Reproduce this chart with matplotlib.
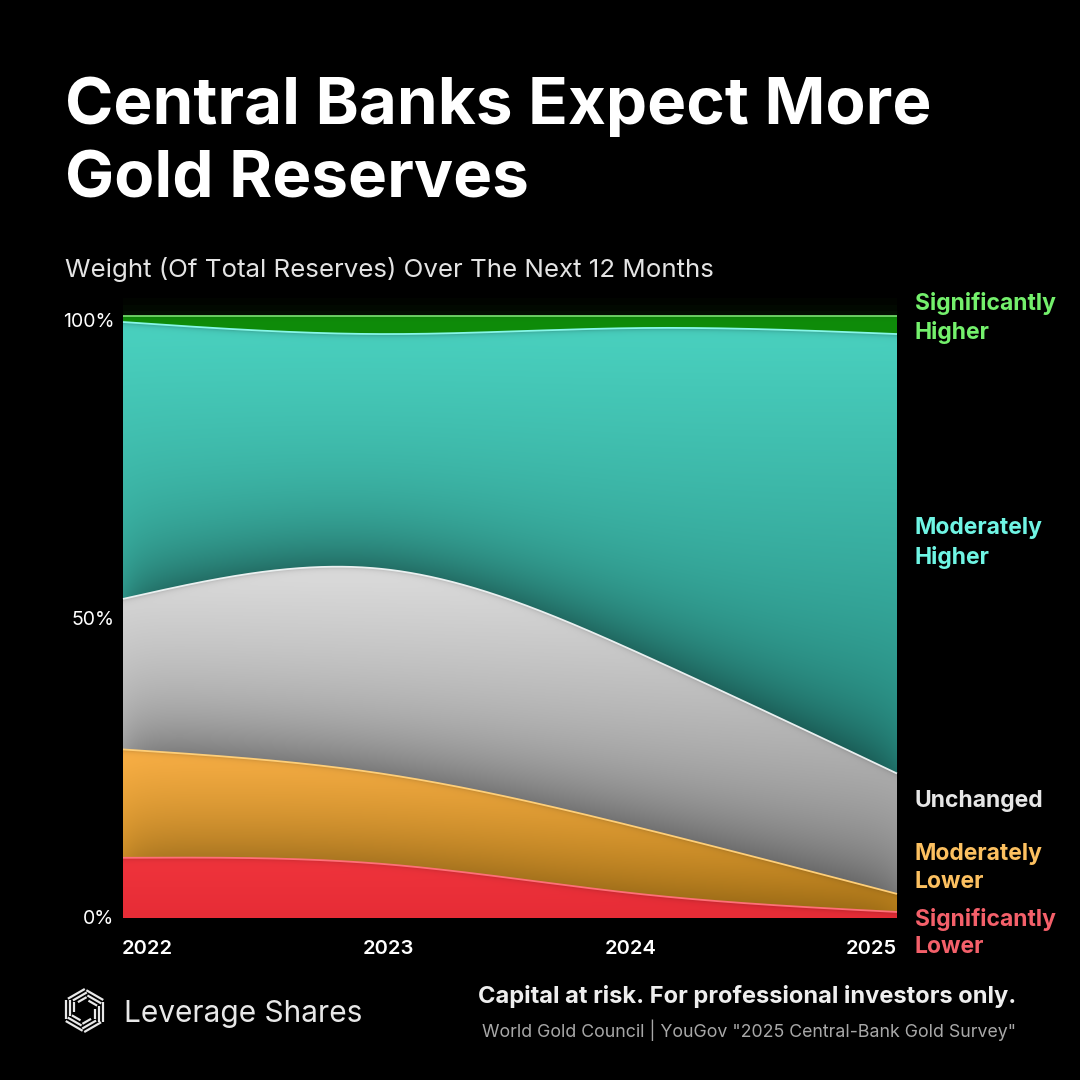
import numpy as np
import matplotlib
matplotlib.use('Agg')
import matplotlib.pyplot as plt
from matplotlib.colors import to_rgb
from matplotlib.transforms import ScaledTranslation

plt.rcParams['font.family'] = ['Inter', 'DejaVu Sans']

# datos
years = [2022, 2023, 2024, 2025]
sig_lower = [10, 9, 4, 1]
mod_lower = [18, 15, 11, 3]
unchanged = [25, 34, 29, 20]
mod_higher = [46, 39, 54, 73]
sig_higher = [1, 3, 2, 3]
series = [sig_lower, mod_lower, unchanged, mod_higher, sig_higher]

y_ticks = [0, 50, 100]
y_tick_labels = ['0%', '50%', '100%']

title_lines = ['Central Banks Expect More', 'Gold Reserves']
subtitle = 'Weight (Of Total Reserves) Over The Next 12 Months'

# estilo de cada capa: color arriba, color abajo, borde
top_colors = ['#f0343c', '#fdb247', '#dddddd', '#4ad2c0', '#0f8f0a']
bottom_colors = ['#e62c36', '#c98a1c', '#929292', '#278c82', '#0f8a0a']
line_colors = ['#ff7078', '#ffcf78', '#eaf0f0', '#86f7e8', '#72d86c']
shadow_strength = [0.0, 0.22, 0.30, 0.36, 0.0]


def natural_spline(x, y, xs):
    # spline cubica natural para suavizar las curvas
    x = np.asarray(x, float)
    y = np.asarray(y, float)
    n = len(x)
    h = np.diff(x)
    A = np.zeros((n, n))
    b = np.zeros(n)
    A[0, 0] = A[-1, -1] = 1
    for i in range(1, n - 1):
        A[i, i - 1] = h[i - 1]
        A[i, i] = 2 * (h[i - 1] + h[i])
        A[i, i + 1] = h[i]
        b[i] = 6 * ((y[i + 1] - y[i]) / h[i] - (y[i] - y[i - 1]) / h[i - 1])
    m = np.linalg.solve(A, b)
    idx = np.clip(np.searchsorted(x, xs) - 1, 0, n - 2)
    t0 = x[idx + 1] - xs
    t1 = xs - x[idx]
    hi = h[idx]
    return (m[idx] * t0**3 + m[idx + 1] * t1**3) / (6 * hi) \
        + (y[idx] / hi - m[idx] * hi / 6) * t0 \
        + (y[idx + 1] / hi - m[idx + 1] * hi / 6) * t1


fig = plt.figure(figsize=(10.8, 10.8), dpi=100, facecolor='black')

# capa de pixeles para textos y logo
canvas = fig.add_axes([0, 0, 1, 1], zorder=5)
canvas.set_xlim(0, 1080)
canvas.set_ylim(1080, 0)
canvas.axis('off')

ax = fig.add_axes([123 / 1080, (1080 - 918) / 1080, 774 / 1080, 602 / 1080], facecolor='black')

xs = np.linspace(years[0], years[-1], 774)
cum = np.cumsum(series, axis=0)
lower = np.zeros_like(xs)
edge_fade = 1 - 0.6 * np.exp(-(xs - xs[0]) / 0.07) - 0.4 * np.exp(-(xs[-1] - xs) / 0.07)

for i in range(len(series)):
    upper = natural_spline(years, cum[i], xs)
    poly = ax.fill_between(xs, lower, upper, color='none', linewidth=0)

    # degradado vertical con sombra de la capa inferior
    ys = np.linspace(upper.max(), lower.min(), 500)
    X, Y = np.meshgrid(xs, ys)
    t = (upper.max() - Y) / (upper.max() - lower.min())
    base = np.array(to_rgb(top_colors[i])) + t[..., None] * (np.array(to_rgb(bottom_colors[i])) - np.array(to_rgb(top_colors[i])))
    slope = np.gradient(lower, xs) * (602 / 100) / 258
    d_low = (Y - lower) / np.sqrt(1 + slope**2)
    d_up = upper - Y
    shade = 1 - shadow_strength[i] * edge_fade * np.exp(-np.clip(d_low, 0, None) / 7.5)
    shade = shade * (1 - 0.22 * np.exp(-np.clip(d_up, 0, None) / 0.4))
    im = ax.imshow(np.clip(base * shade[..., None], 0, 1), aspect='auto', interpolation='bilinear',
                   extent=[xs[0], xs[-1], lower.min(), upper.max()], zorder=2)
    im.set_clip_path(poly.get_paths()[0], transform=ax.transData)
    ax.plot(xs, upper, color=line_colors[i], lw=1.3, zorder=3, clip_on=False, solid_capstyle='butt')
    lower = upper

# brillo verde sobre el borde superior
for w, a in zip([26, 16, 8], [0.025, 0.03, 0.04]):
    ax.plot(xs, lower, color='#2fae2a', lw=w, alpha=a, zorder=1, clip_on=False, solid_capstyle='butt')

ax.set_xlim(years[0], years[-1])
ax.set_ylim(0, 100)
for s in ax.spines.values():
    s.set_visible(False)

ax.set_xticks(years)
ax.set_xticklabels([str(y) for y in years], fontsize=14.5, fontweight='semibold', color='white')
ax.set_yticks(y_ticks)
ax.set_yticklabels(y_tick_labels, fontsize=14, color='white')
ax.tick_params(length=0)
ax.tick_params(axis='x', pad=15.5)
ax.tick_params(axis='y', pad=7)


def shift_label(label, dx, dy):
    # desplazamiento en pixeles
    label.set_transform(label.get_transform() + ScaledTranslation(dx / 100, dy / 100, fig.dpi_scale_trans))


# las etiquetas del eje x van repartidas de borde a borde
x_labels = ax.get_xticklabels()
x_labels[0].set_ha('left')
x_labels[-1].set_ha('right')
shift_label(x_labels[0], -1, 0)
shift_label(x_labels[1], 7, 0)
shift_label(x_labels[2], -8, 0)

y_labels = ax.get_yticklabels()
shift_label(y_labels[0], 1, 1)
shift_label(y_labels[1], 1, -1)
shift_label(y_labels[2], 1, -4)

# titulo
canvas.text(65, 107, title_lines[0], fontsize=47.2, fontweight='bold', color='white', va='center')
canvas.text(65, 181, title_lines[1], fontsize=47.2, fontweight='bold', color='white', va='center')
canvas.text(65, 270, subtitle, fontsize=18.65, color='#e4e4e4', va='center')

# etiquetas de la derecha
labels = [
    ('Significantly\nHigher', 318, '#74f06c'),
    ('Moderately\nHigher', 543, '#6ff5e4'),
    ('Unchanged', 801, '#e6e6e6'),
    ('Moderately\nLower', 868, '#fcc060'),
    ('Significantly\nLower', 933, '#f4606a'),
]
for txt, y, col in labels:
    canvas.text(915, y, txt, fontsize=16.5, fontweight='bold', color=col, va='center', linespacing=1.35)

# pie
canvas.text(124, 1014, 'Leverage Shares', fontsize=21.5, color='#e8e8e8', va='center')
canvas.text(1016, 996.5, 'Capital at risk. For professional investors only.', fontsize=17.05,
            fontweight='bold', color='#eeeeee', va='center', ha='right')
canvas.text(1016, 1030, 'World Gold Council | YouGov "2025 Central-Bank Gold Survey"', fontsize=12.8,
            color='#a8a8a8', va='center', ha='right')

# logo: tres trazos por cada sector girado
cx, cy = 84.5, 1010.5
for k in range(6):
    ang = np.radians(60 * k)
    ux, uy = np.cos(ang), np.sin(ang)
    vx, vy = -uy, ux
    for d, t0, t1 in [(18.5, -8.5, 11), (14.5, -5, 11), (10.5, -1.5, 8.5)]:
        px = [cx + ux * d + vx * t0, cx + ux * d + vx * t1]
        py = [cy + uy * d + vy * t0, cy + uy * d + vy * t1]
        canvas.plot(px, py, color='#e8e8e8', lw=1.6, solid_capstyle='butt')

fig.savefig('out.png', dpi=100, facecolor='black')
